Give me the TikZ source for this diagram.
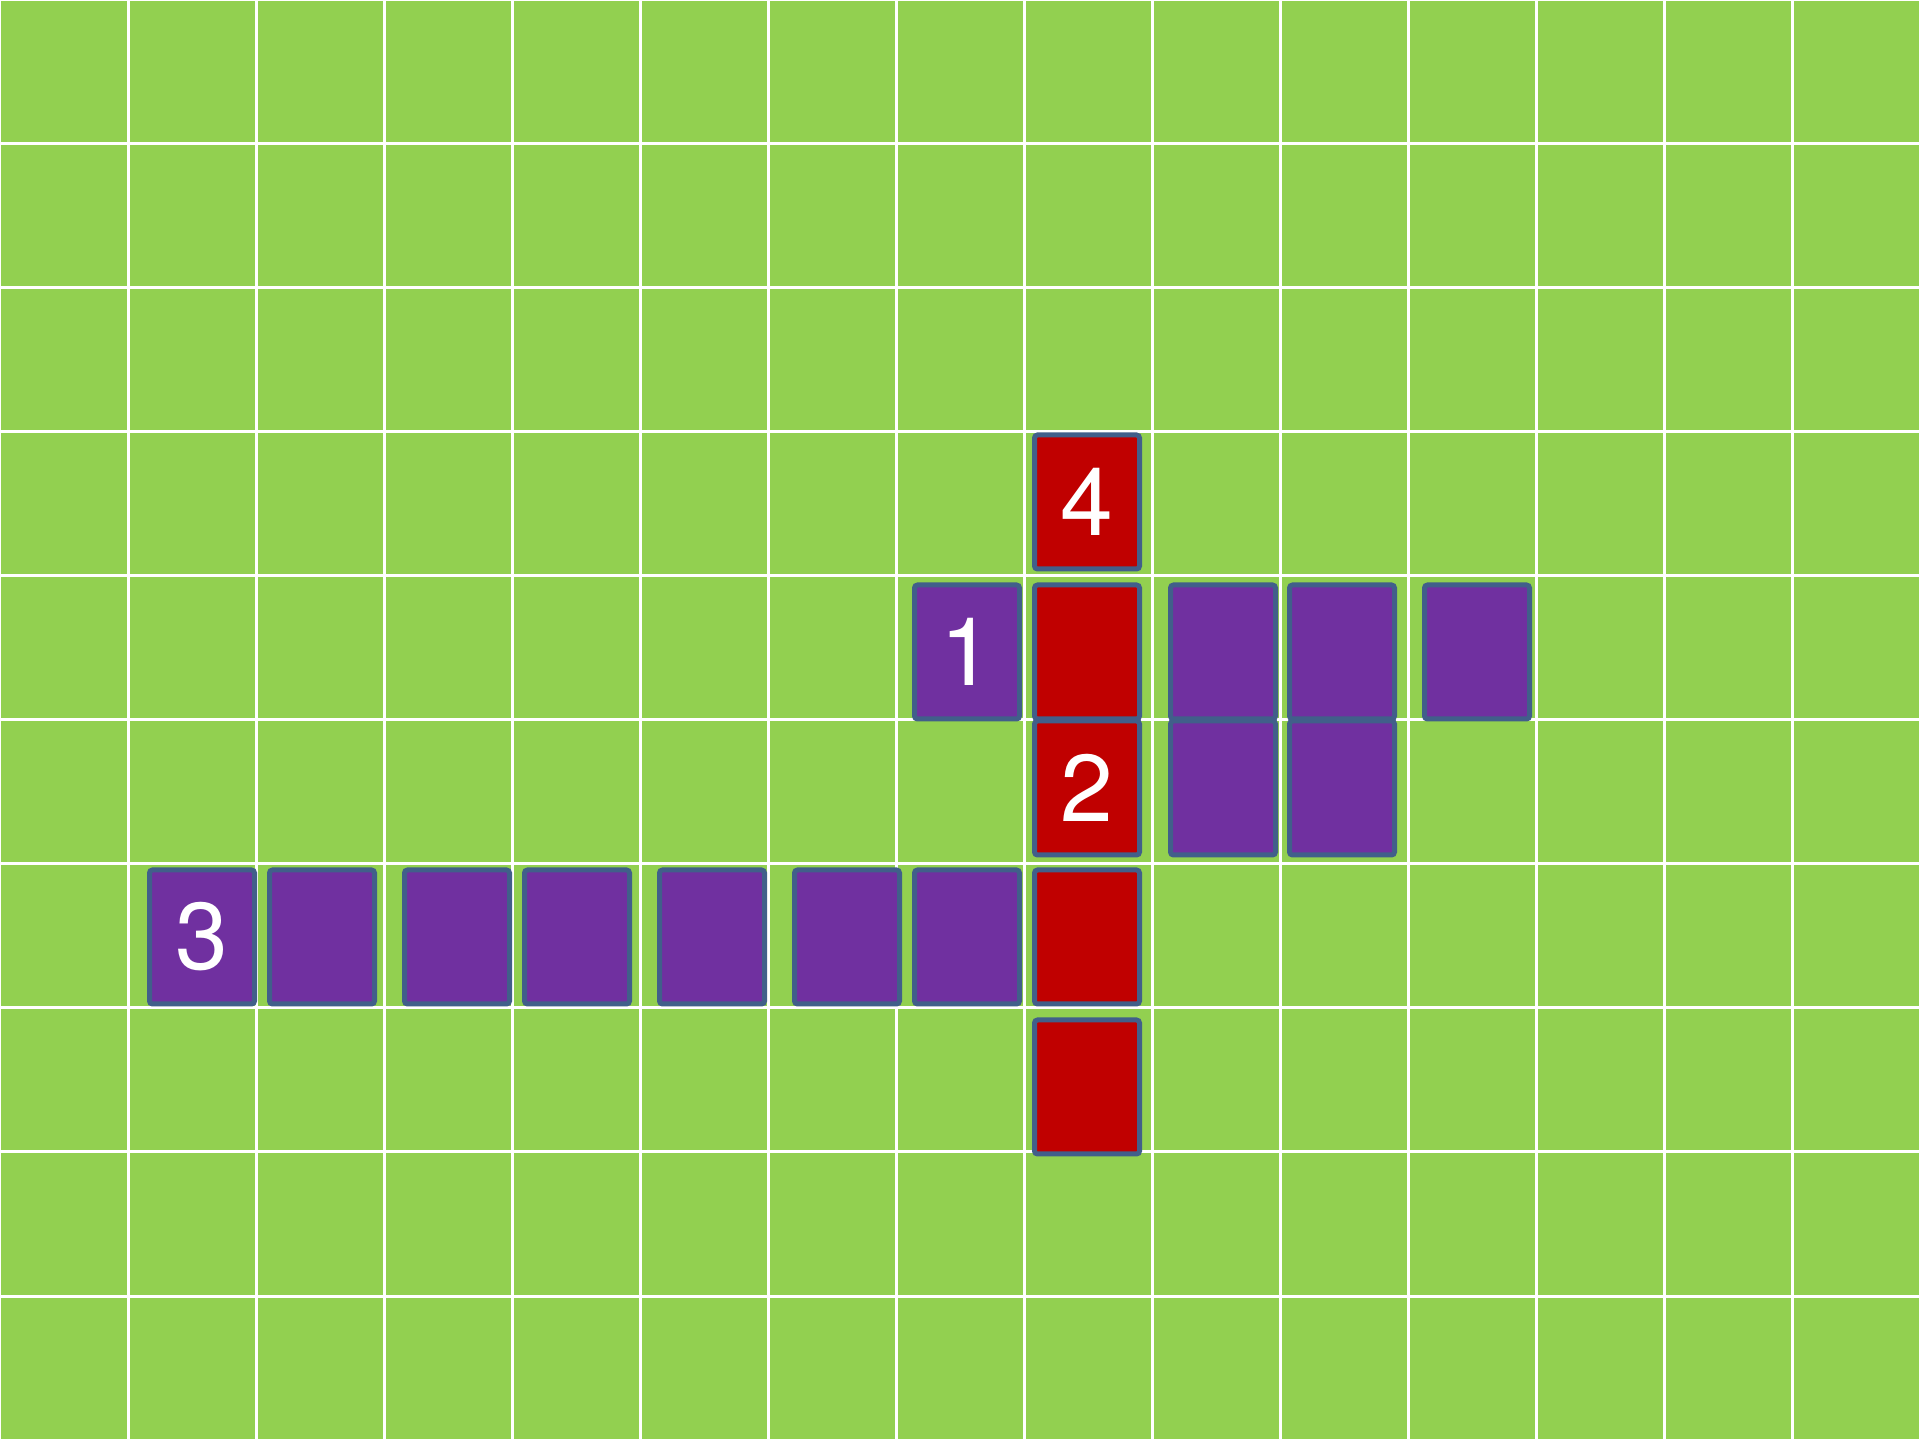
\documentclass[tikz,border=0pt]{standalone}
\usepackage{fontspec}
\setmainfont{TeX Gyre Heros}
\definecolor{grass}{RGB}{146,208,80}
\definecolor{tilepurple}{RGB}{112,48,160}
\definecolor{tilered}{RGB}{192,0,0}
\definecolor{tileedge}{RGB}{65,95,138}
\begin{document}
\begin{tikzpicture}[x=0.1mm, y=-0.1mm,
  tile/.style={draw=tileedge, line width=0.5mm, rounded corners=0.3mm,
    minimum width=10.5mm, minimum height=13.4mm, inner sep=0pt,
    text=white, font=\fontsize{27}{32}\selectfont},
  ptile/.style={tile, fill=tilepurple},
  rtile/.style={tile, fill=tilered}]
  \useasboundingbox (0,0) rectangle (1920,1440);

  % Green field with white grid
  \fill[grass] (0,0) rectangle (1920,1440);
  \foreach \i in {0,...,15}
    \draw[white, line width=0.3mm] (\i*128,0) -- (\i*128,1440);
  \foreach \j in {0,...,10}
    \draw[white, line width=0.3mm] (0,\j*144) -- (1920,\j*144);

  % Red column
  \node[rtile] (red4) at (1087,502) {4};
  \node[rtile] (redA) at (1087,652) {};
  \node[rtile] (red2) at (1087,788) {2};
  \node[rtile] (redB) at (1087,937) {};
  \node[rtile] (redC) at (1087,1087) {};

  % Purple tiles near the column
  \node[ptile] (pur1) at (967,652) {1};
  \node[ptile] (purA) at (1223,652) {};
  \node[ptile] (purB) at (1223,788) {};
  \node[ptile] (purC) at (1342,652) {};
  \node[ptile] (purD) at (1342,788) {};
  \node[ptile] (purE) at (1477,652) {};

  % Purple row to the left
  \node[ptile] (pur3) at (202,937) {3};
  \node[ptile] (rowA) at (322,937) {};
  \node[ptile] (rowB) at (457,937) {};
  \node[ptile] (rowC) at (577,937) {};
  \node[ptile] (rowD) at (712,937) {};
  \node[ptile] (rowE) at (847,937) {};
  \node[ptile] (rowF) at (967,937) {};
\end{tikzpicture}
\end{document}
